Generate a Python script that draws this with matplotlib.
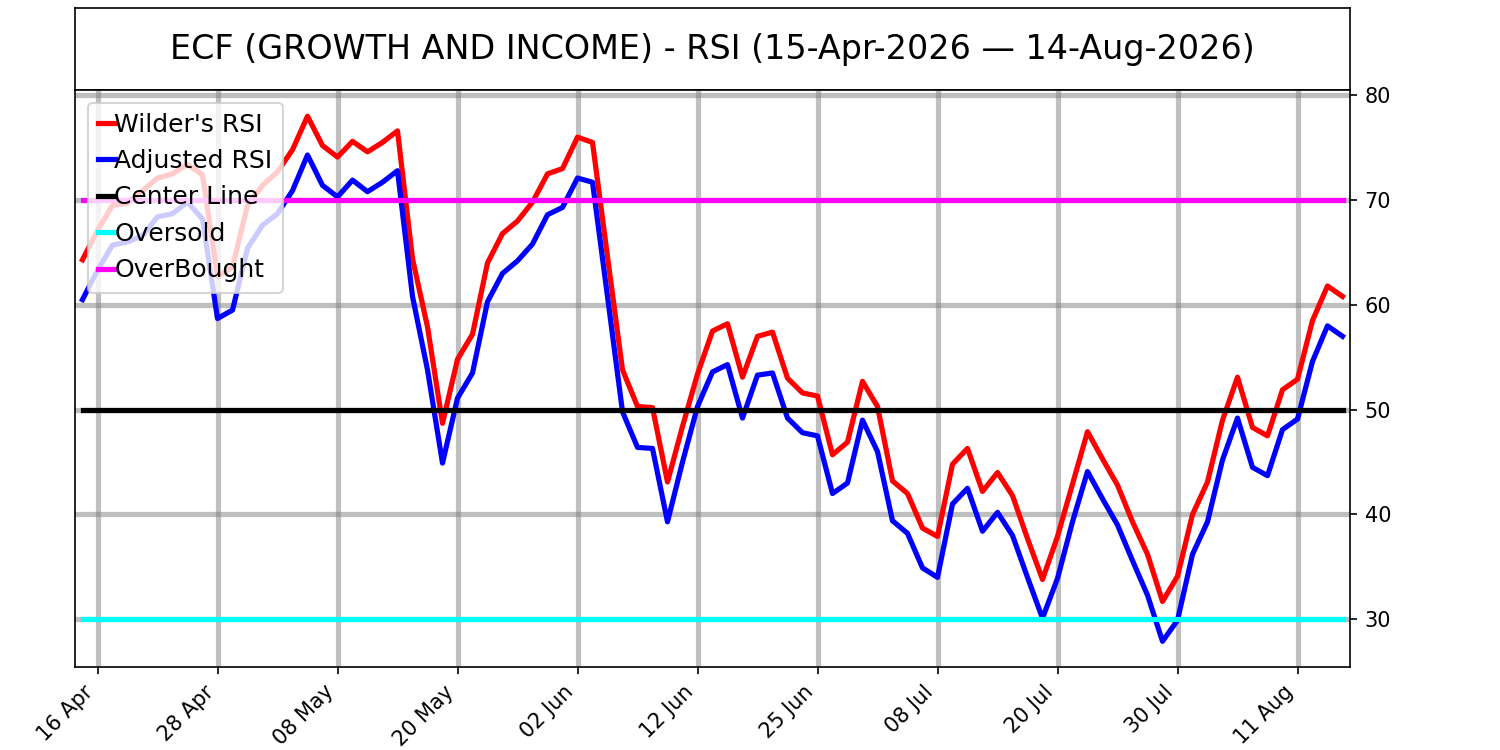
import matplotlib.pyplot as plt
import numpy as np
import pandas as pd

titulo = 'ECF (GROWTH AND INCOME) - RSI (15-Apr-2026 \u2014 14-Aug-2026)'

# trading days (US market holidays removed)
festivos = ['2026-05-25', '2026-06-19', '2026-07-03']
fechas = pd.bdate_range('2026-04-15', '2026-08-14', freq='C', holidays=festivos)

wilder_rsi = [64.3, 67.1, 69.5, 69.7, 70.9, 72.1, 72.5, 73.4, 72.4, 62.7,
              63.6, 69.5, 71.4, 72.7, 74.8, 78.0, 75.2, 74.1, 75.6, 74.6,
              75.5, 76.6, 64.4, 57.9, 48.7, 54.8, 57.2, 64.0, 66.8, 68.0,
              69.8, 72.5, 73.0, 76.0, 75.5, 64.6, 53.8, 50.3, 50.2, 43.1,
              48.4, 53.4, 57.5, 58.2, 53.1, 57.0, 57.4, 53.0, 51.6, 51.3,
              45.7, 46.9, 52.7, 50.3, 43.2, 42.0, 38.7, 37.9, 44.8, 46.3,
              42.2, 44.0, 41.8, 37.7, 33.8, 37.9, 42.9, 47.9, 45.3, 42.8,
              39.3, 36.2, 31.7, 34.1, 40.0, 43.1, 49.0, 53.1, 48.3, 47.5,
              51.9, 52.9, 58.5, 61.8, 60.8]

adjusted_rsi = [60.5, 63.3, 65.7, 66.0, 66.6, 68.4, 68.7, 69.8, 68.2, 58.7,
                59.5, 65.4, 67.6, 68.7, 70.9, 74.3, 71.4, 70.3, 71.9, 70.8,
                71.7, 72.8, 60.8, 53.8, 44.9, 51.1, 53.5, 60.3, 63.0, 64.2,
                65.8, 68.6, 69.3, 72.1, 71.7, 60.8, 49.8, 46.4, 46.3, 39.3,
                45.0, 50.3, 53.6, 54.3, 49.2, 53.3, 53.5, 49.2, 47.8, 47.5,
                42.0, 43.0, 49.0, 46.0, 39.4, 38.2, 34.9, 34.0, 41.0, 42.5,
                38.4, 40.2, 38.0, 34.0, 30.1, 33.9, 39.3, 44.1, 41.5, 39.0,
                35.6, 32.3, 27.9, 29.9, 36.2, 39.3, 45.2, 49.2, 44.5, 43.7,
                48.1, 49.1, 54.6, 58.0, 57.0]

centro = 50
sobreventa = 30
sobrecompra = 70

x = np.arange(len(fechas))
ticks = x[1::8]
etiquetas = [f.strftime('%d %b') for f in fechas[1::8]]

fig = plt.figure(figsize=(10, 5), dpi=150)

# caja del titulo
ax_t = fig.add_axes([0.05, 0.88, 0.85, 0.1093])
ax_t.set_xticks([])
ax_t.set_yticks([])
ax_t.text(0.5, 0.5, titulo, ha='center', va='center', fontsize=16,
          transform=ax_t.transAxes)

ax = fig.add_axes([0.05, 0.1107, 0.85, 0.7693])
ax.plot(x, wilder_rsi, color='red', lw=2.5, label="Wilder's RSI")
ax.plot(x, adjusted_rsi, color='blue', lw=2.5, label='Adjusted RSI')
ax.plot(x, np.full(len(x), centro), color='black', lw=2.5, label='Center Line')
ax.plot(x, np.full(len(x), sobreventa), color='cyan', lw=2.5, label='Oversold')
ax.plot(x, np.full(len(x), sobrecompra), color='magenta', lw=2.5, label='OverBought')

ax.set_xlim(-0.5, len(x) - 0.5)
ax.set_ylim(25.45, 80.5)
ax.set_xticks(ticks)
ax.set_xticklabels(etiquetas, rotation=45, ha='right')
ax.set_yticks([30, 40, 50, 60, 70, 80])
ax.yaxis.tick_right()
ax.tick_params(labelsize=10)
ax.grid(True, color='gray', alpha=0.5, linewidth=2.5)
ax.legend(loc='upper left', fontsize=12, handlelength=0.68, handletextpad=0.0)

fig.savefig('out.png', dpi=150)
